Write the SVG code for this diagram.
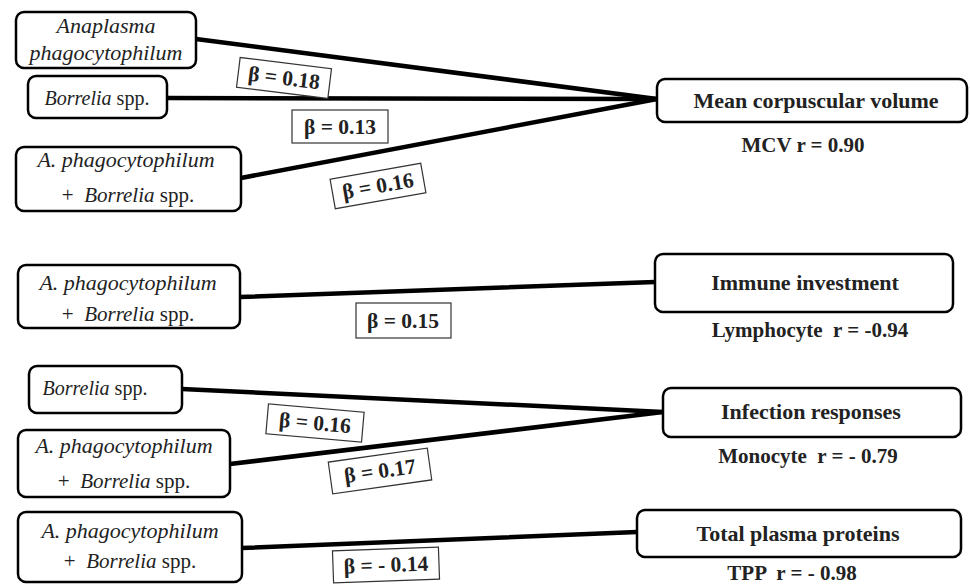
<svg xmlns="http://www.w3.org/2000/svg" width="970" height="586" viewBox="0 0 970 586">
<style>
.node{fill:#fff;stroke:#000;stroke-width:2.5}
.it{font-family:"Liberation Serif","Times New Roman",serif;font-size:21px;fill:#222;text-anchor:middle}
.big{font-size:22px}
.sm{font-size:20px}
.i{font-style:italic}
.bold{font-family:"Liberation Serif","Times New Roman",serif;font-size:22px;font-weight:bold;fill:#222;text-anchor:middle}
.sub{font-size:21px}
.conn{stroke:#000;stroke-width:4.5;fill:none;stroke-linecap:round}
.beta rect{fill:#fff;stroke:#333;stroke-width:1.2}
.beta text{font-family:"Liberation Serif","Times New Roman",serif;font-size:21.5px;font-weight:bold;fill:#222;text-anchor:middle}
</style>
<rect width="970" height="586" fill="#fff"/>
<g id="connectors">
<line class="conn" x1="196" y1="39" x2="657" y2="99"/>
<line class="conn" x1="167" y1="98" x2="657" y2="99"/>
<line class="conn" x1="241" y1="178" x2="657" y2="99"/>
<line class="conn" x1="240" y1="297" x2="655" y2="282"/>
<line class="conn" x1="182" y1="389" x2="663" y2="412"/>
<line class="conn" x1="230" y1="464" x2="663" y2="412"/>
<line class="conn" x1="242" y1="548" x2="637" y2="532"/>
</g>
<g id="n_anaplasma"><rect class="node" x="16" y="12" width="180" height="56" rx="8"/><text class="it big i" x="106" y="33">Anaplasma</text><text class="it big i" x="106" y="60">phagocytophilum</text></g>
<g id="n_borrelia1"><rect class="node" x="28" y="76" width="139" height="42" rx="8"/><text class="it sm" x="97" y="105"><tspan class="i">Borrelia</tspan> spp.</text></g>
<g id="n_combo1"><rect class="node" x="16" y="147" width="225" height="64" rx="8"/><text class="it big i" x="126" y="167">A. phagocytophilum</text><text class="it" x="128" y="202" xml:space="preserve">+  <tspan class="i">Borrelia</tspan> spp.</text></g>
<g id="n_combo2"><rect class="node" x="18" y="265" width="222" height="63" rx="8"/><text class="it big i" x="128" y="290">A. phagocytophilum</text><text class="it" x="128" y="321" xml:space="preserve">+  <tspan class="i">Borrelia</tspan> spp.</text></g>
<g id="n_borrelia2"><rect class="node" x="29" y="366" width="153" height="47" rx="8"/><text class="it sm" x="95" y="395"><tspan class="i">Borrelia</tspan> spp.</text></g>
<g id="n_combo3"><rect class="node" x="18" y="430" width="212" height="67" rx="8"/><text class="it big i" x="124" y="453">A. phagocytophilum</text><text class="it" x="124" y="488" xml:space="preserve">+  <tspan class="i">Borrelia</tspan> spp.</text></g>
<g id="n_combo4"><rect class="node" x="18" y="512" width="224" height="70" rx="8"/><text class="it big i" x="130" y="538">A. phagocytophilum</text><text class="it" x="130" y="568" xml:space="preserve">+  <tspan class="i">Borrelia</tspan> spp.</text></g>
<g id="n_mcv"><rect class="node" x="657" y="79" width="310" height="43" rx="8"/><text class="bold" x="816" y="108">Mean corpuscular volume</text><text class="bold sub" x="803" y="152">MCV r = 0.90</text></g>
<g id="n_immune"><rect class="node" x="655" y="254" width="298" height="58" rx="8"/><text class="bold" x="805" y="290">Immune investment</text><text class="bold sub" x="810" y="337" xml:space="preserve">Lymphocyte  r = -0.94</text></g>
<g id="n_infection"><rect class="node" x="663" y="388" width="298" height="49" rx="8"/><text class="bold" x="811" y="419">Infection responses</text><text class="bold sub" x="808" y="463" xml:space="preserve">Monocyte  r = - 0.79</text></g>
<g id="n_tpp"><rect class="node" x="637" y="510" width="324" height="47" rx="8"/><text class="bold" x="798" y="541">Total plasma proteins</text><text class="bold sub" x="792" y="580" xml:space="preserve">TPP  r = - 0.98</text></g>
<g id="labels">
<g class="beta" transform="translate(284,78) rotate(7)"><rect x="-46" y="-15" width="92" height="30"/><text x="0" y="7">β = 0.18</text></g>
<g class="beta" transform="translate(340,126)"><rect x="-48" y="-16" width="96" height="33"/><text x="0" y="8">β = 0.13</text></g>
<g class="beta" transform="translate(378,186) rotate(-10)"><rect x="-46" y="-15" width="92" height="30"/><text x="0" y="7">β = 0.16</text></g>
<g class="beta" transform="translate(403,320)"><rect x="-47" y="-17" width="95" height="35"/><text x="0" y="8">β = 0.15</text></g>
<g class="beta" transform="translate(315,423) rotate(5)"><rect x="-48" y="-15" width="96" height="30"/><text x="0" y="7">β = 0.16</text></g>
<g class="beta" transform="translate(380,471) rotate(-8)"><rect x="-50" y="-16" width="100" height="32"/><text x="0" y="7">β = 0.17</text></g>
<g class="beta" transform="translate(386,565) rotate(-2)"><rect x="-53" y="-16" width="106" height="32"/><text x="0" y="7">β = - 0.14</text></g>
</g>
</svg>
